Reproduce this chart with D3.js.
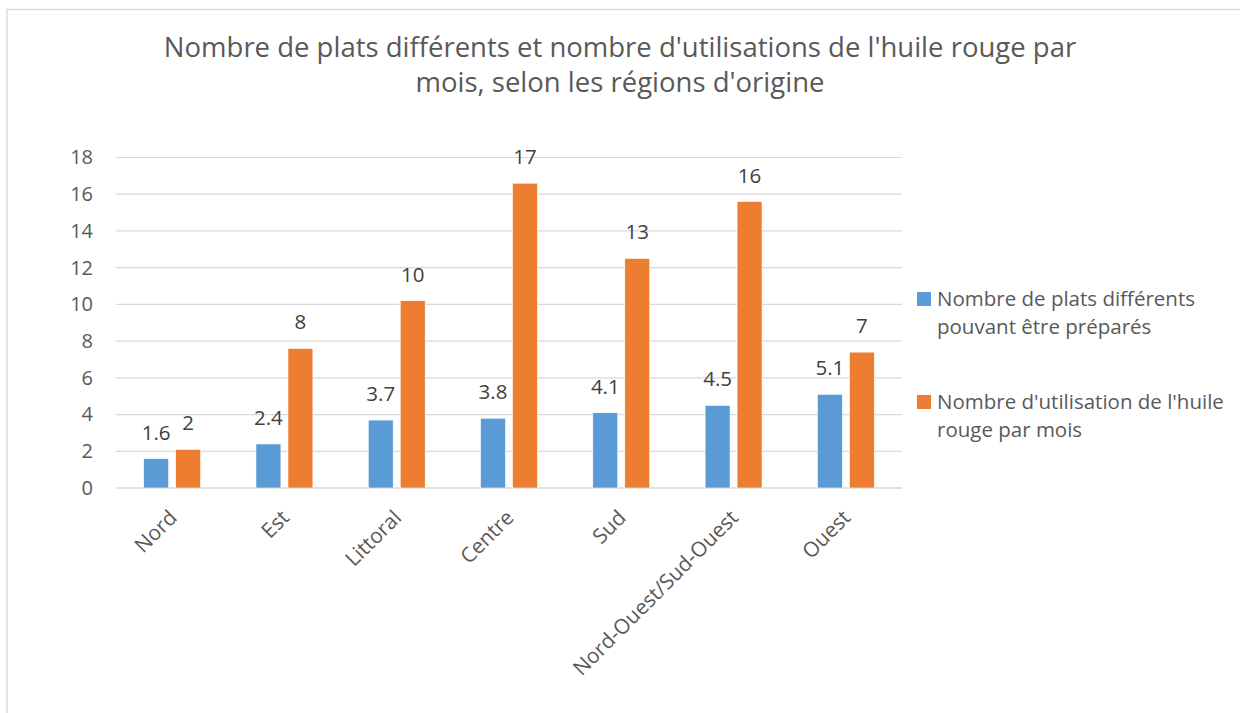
<!DOCTYPE html>
<html>
<head>
<meta charset="utf-8">
<script src="https://cdn.jsdelivr.net/npm/d3@7"></script>
<style>
  html, body { margin: 0; padding: 0; background: #fff; }
  svg { display: block; }
</style>
</head>
<body>
<svg id="chart" width="1240" height="713"></svg>
<script>
// Regions of origin and the two measured series
const regions = ["Nord", "Est", "Littoral", "Centre", "Sud", "Nord-Ouest/Sud-Ouest", "Ouest"];
const platsDifferents = [1.6, 2.4, 3.7, 3.8, 4.1, 4.5, 5.1];
const utilisationsHuile = [2.1, 7.6, 10.2, 16.6, 12.5, 15.6, 7.4];
const seriesNames = [
  ["Nombre de plats différents", "pouvant être préparés"],
  ["Nombre d'utilisation de l'huile", "rouge par mois"]
];
const yTicks = [0, 2, 4, 6, 8, 10, 12, 14, 16, 18];
const titleLines = [
  "Nombre de plats différents et nombre d'utilisations de l'huile rouge par",
  "mois, selon les régions d'origine"
];

const colors = ["#5b9bd5", "#ed7d31"];
const labelFormats = [d3.format(".1f"), d3.format(".0f")];
const FONT = "'Open Sans', 'Noto Sans', sans-serif";

const svg = d3.select("#chart");

// Chart frame (top and left edges visible)
svg.append("path")
  .attr("d", "M7,713 V9.5 H1240")
  .attr("fill", "none")
  .attr("stroke", "#d9d9d9")
  .attr("stroke-width", 1.5);

// Title
svg.append("g")
  .selectAll("text")
  .data(titleLines)
  .join("text")
  .attr("x", 620)
  .attr("y", (d, i) => 57 + i * 35)
  .attr("text-anchor", "middle")
  .attr("font-family", FONT)
  .attr("font-size", 27.5)
  .attr("fill", "#595959")
  .text(d => d);

const plot = { left: 116, right: 902, top: 157.5, bottom: 488 };

const x = d3.scaleBand()
  .domain(regions)
  .range([plot.left, plot.right]);

const xSeries = d3.scaleBand()
  .domain([0, 1])
  .range([0, x.bandwidth()])
  .paddingInner(0.22)
  .paddingOuter(0.865);

const y = d3.scaleLinear()
  .domain([0, 18])
  .range([plot.bottom, plot.top]);

// Gridlines
svg.append("g")
  .selectAll("line")
  .data(yTicks)
  .join("line")
  .attr("x1", plot.left)
  .attr("x2", plot.right)
  .attr("y1", d => y(d))
  .attr("y2", d => y(d))
  .attr("stroke", "#d9d9d9")
  .attr("stroke-width", d => d === 0 ? 1.5 : 1.2);

// Y axis labels
const yAxis = svg.append("g")
  .attr("transform", `translate(${plot.left - 23},0)`)
  .call(d3.axisLeft(y).tickValues(yTicks).tickSize(0).tickPadding(0));
yAxis.select(".domain").remove();
yAxis.selectAll("text")
  .attr("font-family", FONT)
  .attr("font-size", 20)
  .attr("fill", "#595959");

// Bars
const seriesData = [platsDifferents, utilisationsHuile];
const groups = svg.append("g")
  .selectAll("g")
  .data(seriesData)
  .join("g")
  .attr("fill", (d, i) => colors[i]);

groups.each(function (values, si) {
  const g = d3.select(this);
  g.selectAll("rect")
    .data(values)
    .join("rect")
    .attr("x", (d, i) => x(regions[i]) + xSeries(si))
    .attr("width", xSeries.bandwidth())
    .attr("y", d => y(d))
    .attr("height", d => y(0) - y(d))
    .attr("stroke", "#fff")
    .attr("stroke-width", 0.6);

  g.selectAll("text")
    .data(values)
    .join("text")
    .attr("x", (d, i) => x(regions[i]) + xSeries(si) + xSeries.bandwidth() / 2)
    .attr("y", d => y(d) - 19)
    .attr("text-anchor", "middle")
    .attr("font-family", FONT)
    .attr("font-size", 20.5)
    .attr("fill", "#404040")
    .text(d => labelFormats[si](d));
});

// Category labels, rotated
const xAxis = svg.append("g")
  .attr("transform", `translate(0,${plot.bottom})`)
  .call(d3.axisBottom(x).tickSize(0).tickPadding(0));
xAxis.select(".domain").remove();
xAxis.selectAll("text")
  .attr("font-family", FONT)
  .attr("font-size", 20.8)
  .attr("fill", "#595959")
  .attr("text-anchor", "end")
  .attr("dy", 0)
  .attr("transform", "translate(6,31) rotate(-45)");

// Legend
const legend = svg.append("g")
  .selectAll("g")
  .data(seriesNames)
  .join("g")
  .attr("transform", (d, i) => `translate(917,${292 + i * 103})`);

legend.append("rect")
  .attr("width", 14)
  .attr("height", 14)
  .attr("fill", (d, i) => colors[i]);

legend.selectAll("text")
  .data(d => d)
  .join("text")
  .attr("x", 20)
  .attr("y", (d, i) => 14 + i * 28)
  .attr("font-family", FONT)
  .attr("font-size", 20.5)
  .attr("fill", "#595959")
  .text(d => d);
</script>
</body>
</html>
